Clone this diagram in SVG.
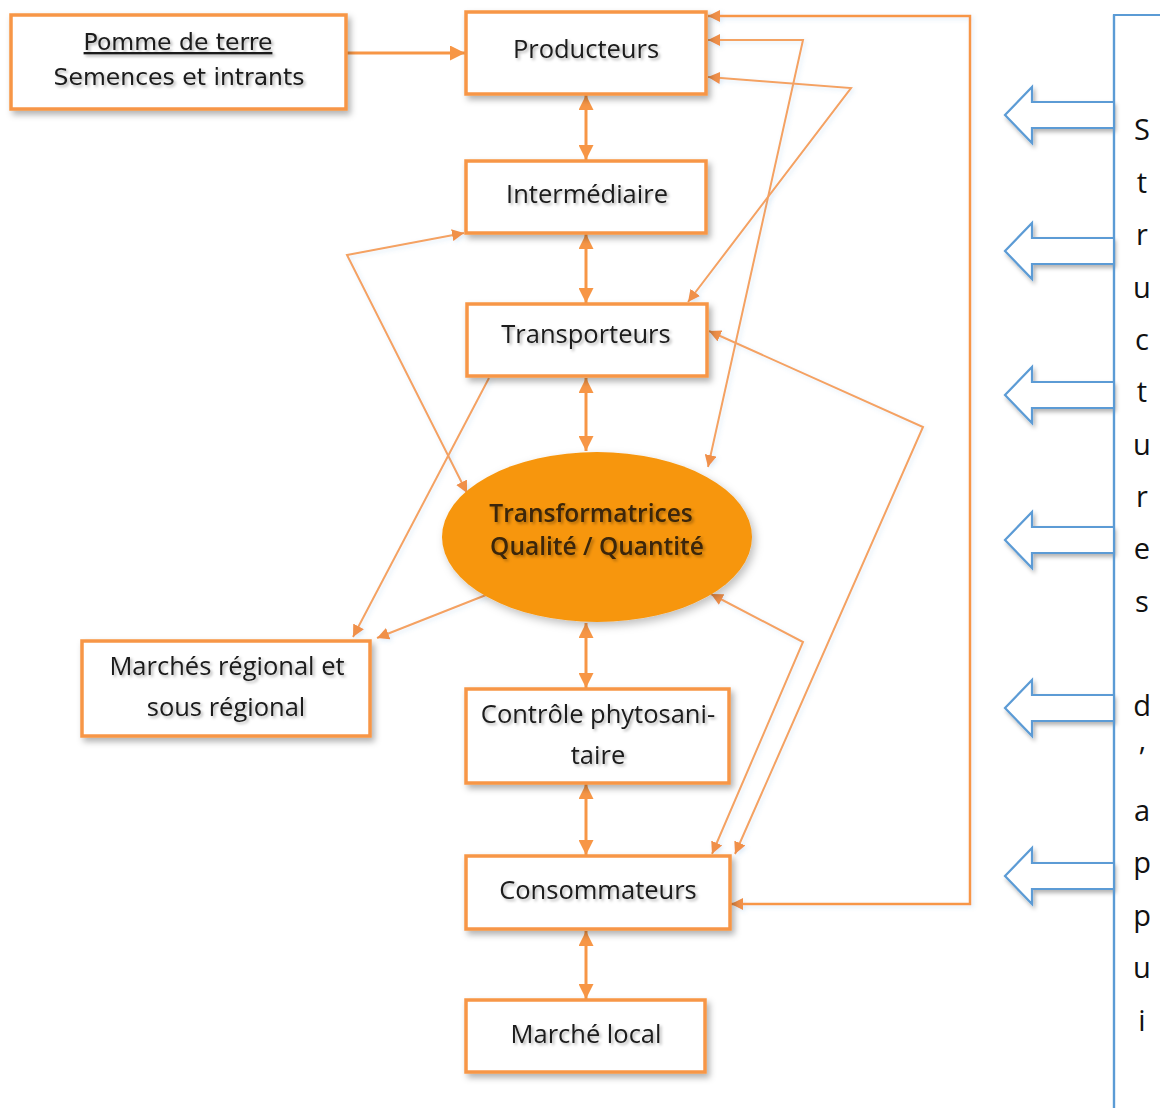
<svg xmlns="http://www.w3.org/2000/svg" width="1160" height="1108" viewBox="0 0 1160 1108">
<defs>
<style>
.box{fill:#ffffff;stroke:#F79646;stroke-width:3.5;filter:url(#sh)}
.t{font-family:"Open Sans","Noto Sans",sans-serif;font-size:25.5px;fill:#1a1a1a;text-anchor:middle;filter:url(#tsh)}
.p{font-family:"DejaVu Sans",Verdana,sans-serif;font-size:23.5px;fill:#1a1a1a;text-anchor:middle;filter:url(#tsh)}
.e{font-family:"Open Sans","Noto Sans",sans-serif;font-size:24.5px;font-weight:600;fill:#3a2508;text-anchor:middle;filter:url(#tsh)}
.v{font-family:"Open Sans","Noto Sans",sans-serif;font-size:29px;fill:#111;text-anchor:middle}
.thick{fill:none;stroke:#F79646;stroke-width:3}
.thin{fill:none;stroke:#F4A262;stroke-width:2;filter:url(#lsh)}
.barrow{fill:#ffffff;stroke:#5B9BD5;stroke-width:2.2;stroke-linejoin:miter;filter:url(#bsh)}
.bline{fill:none;stroke:#5B9BD5;stroke-width:2.2}
</style>
<filter id="sh" x="-10%" y="-10%" width="130%" height="140%">
<feDropShadow dx="3" dy="4" stdDeviation="3" flood-color="#000" flood-opacity="0.3"/>
</filter>
<filter id="tsh" x="-10%" y="-30%" width="130%" height="170%">
<feDropShadow dx="2" dy="2" stdDeviation="1.5" flood-color="#000" flood-opacity="0.3"/>
</filter>
<filter id="lsh" x="-10%" y="-10%" width="130%" height="130%">
<feDropShadow dx="2" dy="2" stdDeviation="2" flood-color="#5B9BD5" flood-opacity="0.2"/>
</filter>
<filter id="bsh" x="-20%" y="-30%" width="150%" height="170%">
<feDropShadow dx="2" dy="3" stdDeviation="2" flood-color="#000" flood-opacity="0.3"/>
</filter>
<filter id="esh" x="-10%" y="-10%" width="130%" height="130%">
<feDropShadow dx="3" dy="4" stdDeviation="4" flood-color="#000" flood-opacity="0.25"/>
</filter>
<marker id="ah" viewBox="0 0 10 10" refX="10" refY="5" markerWidth="15" markerHeight="15" markerUnits="userSpaceOnUse" orient="auto-start-reverse">
<path d="M0,0 L10,5 L0,10 z" fill="#F79646"/>
</marker>
<marker id="ahs" viewBox="0 0 10 10" refX="10" refY="5" markerWidth="12" markerHeight="12" markerUnits="userSpaceOnUse" orient="auto-start-reverse">
<path d="M0,0 L10,5 L0,10 z" fill="#F0904A"/>
</marker>
</defs>
<rect width="1160" height="1108" fill="#ffffff"/>

<g id="connectors">
<line class="thick" x1="347" y1="53" x2="465" y2="53" marker-end="url(#ah)"/>
<line class="thick" x1="586" y1="95" x2="586" y2="160" marker-start="url(#ah)" marker-end="url(#ah)"/>
<line class="thick" x1="586" y1="234" x2="586" y2="303" marker-start="url(#ah)" marker-end="url(#ah)"/>
<line class="thick" x1="586" y1="378" x2="586" y2="451" marker-start="url(#ah)" marker-end="url(#ah)"/>
<line class="thick" x1="586" y1="623" x2="586" y2="688" marker-start="url(#ah)" marker-end="url(#ah)"/>
<line class="thick" x1="586" y1="784" x2="586" y2="855" marker-start="url(#ah)" marker-end="url(#ah)"/>
<line class="thick" x1="586" y1="931" x2="586" y2="999" marker-start="url(#ah)" marker-end="url(#ah)"/>
<polyline class="thin" points="731,904 970,904 970,16 708,16" marker-start="url(#ahs)" marker-end="url(#ahs)" style="stroke:#F79646;stroke-width:2.5"/>
<polyline class="thin" points="708,40 803,40 708,467" marker-start="url(#ahs)" marker-end="url(#ahs)"/>
<polyline class="thin" points="708,77 851,88 688,302" marker-start="url(#ahs)" marker-end="url(#ahs)"/>
<polyline class="thin" points="464,233 347,255 467,493" marker-start="url(#ahs)" marker-end="url(#ahs)"/>
<line class="thin" x1="489" y1="378" x2="353" y2="637" marker-end="url(#ahs)"/>
<line class="thin" x1="486" y1="595" x2="377" y2="638" marker-end="url(#ahs)"/>
<polyline class="thin" points="709,331 923,427 735,854" marker-start="url(#ahs)" marker-end="url(#ahs)"/>
<polyline class="thin" points="711,594 803,642 712,854" marker-start="url(#ahs)" marker-end="url(#ahs)"/>
</g>

<g id="pomme">
<rect class="box" x="11" y="15" width="335" height="94"/>
<text class="p" x="178" y="50" text-decoration="underline">Pomme de terre</text>
<text class="p" x="179" y="85">Semences et intrants</text>
</g>
<g id="producteurs">
<rect class="box" x="466" y="12" width="240" height="82"/>
<text class="t" x="586" y="58">Producteurs</text>
</g>
<g id="intermediaire">
<rect class="box" x="466" y="161" width="240" height="72"/>
<text class="t" x="587" y="203">Intermédiaire</text>
</g>
<g id="transporteurs">
<rect class="box" x="467" y="304" width="240" height="72"/>
<text class="t" x="586" y="343">Transporteurs</text>
</g>
<g id="transformatrices">
<ellipse cx="597" cy="537" rx="155" ry="85" fill="#F7960F" filter="url(#esh)"/>
<text class="e" x="591" y="522">Transformatrices</text>
<text class="e" x="597" y="555">Qualité / Quantité</text>
</g>
<g id="marches-regional">
<rect class="box" x="82" y="641" width="288" height="95"/>
<text class="t" x="227" y="675">Marchés régional et</text>
<text class="t" x="226" y="716">sous régional</text>
</g>
<g id="controle">
<rect class="box" x="466" y="689" width="263" height="94"/>
<text class="t" x="598" y="723">Contrôle phytosani-</text>
<text class="t" x="598" y="764">taire</text>
</g>
<g id="consommateurs">
<rect class="box" x="466" y="856" width="264" height="73"/>
<text class="t" x="598" y="899">Consommateurs</text>
</g>
<g id="marche-local">
<rect class="box" x="466" y="1000" width="239" height="72"/>
<text class="t" x="586" y="1043">Marché local</text>
</g>

<g id="structures-appui">
<polyline class="bline" points="1160,15 1114,15 1114,1108"/>
<path class="barrow" d="M1114,102 L1032,102 L1032,87 L1005,115 L1032,143 L1032,128 L1114,128"/>
<path class="barrow" d="M1114,238 L1032,238 L1032,223 L1005,251 L1032,279 L1032,264 L1114,264"/>
<path class="barrow" d="M1114,382 L1032,382 L1032,367 L1005,395 L1032,423 L1032,408 L1114,408"/>
<path class="barrow" d="M1114,527 L1032,527 L1032,512 L1005,540 L1032,568 L1032,553 L1114,553"/>
<path class="barrow" d="M1114,695 L1032,695 L1032,680 L1005,708 L1032,736 L1032,721 L1114,721"/>
<path class="barrow" d="M1114,863 L1032,863 L1032,848 L1005,876 L1032,904 L1032,889 L1114,889"/>
<line class="bline" x1="1114" y1="15" x2="1114" y2="1108"/>
<text class="v" x="1142" y="140">S</text>
<text class="v" x="1142" y="193">t</text>
<text class="v" x="1142" y="245">r</text>
<text class="v" x="1142" y="298">u</text>
<text class="v" x="1142" y="350">c</text>
<text class="v" x="1142" y="402">t</text>
<text class="v" x="1142" y="455">u</text>
<text class="v" x="1142" y="507">r</text>
<text class="v" x="1142" y="559">e</text>
<text class="v" x="1142" y="612">s</text>
<text class="v" x="1142" y="716">d</text>
<text class="v" x="1142" y="768">’</text>
<text class="v" x="1142" y="821">a</text>
<text class="v" x="1142" y="873">p</text>
<text class="v" x="1142" y="926">p</text>
<text class="v" x="1142" y="978">u</text>
<text class="v" x="1142" y="1031">i</text>
</g>
</svg>
